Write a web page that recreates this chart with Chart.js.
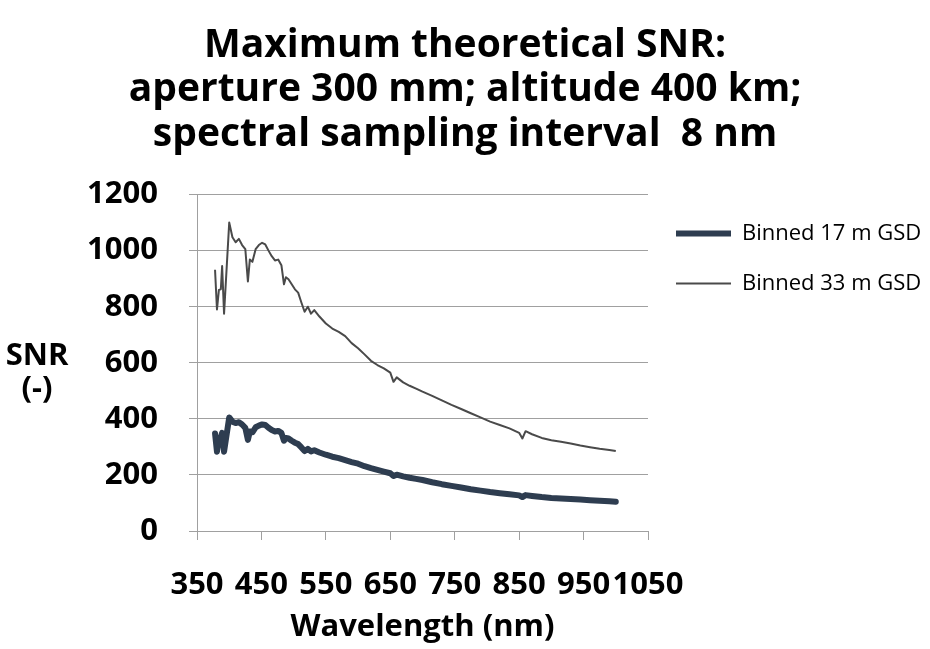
<!DOCTYPE html>
<html>
<head>
<meta charset="utf-8">
<style>
  html, body { margin: 0; padding: 0; background: #fff; }
  #wrap { width: 930px; height: 649px; }
</style>
<script src="https://cdn.jsdelivr.net/npm/chart.js@4.4.1/dist/chart.umd.min.js"></script>
</head>
<body>
<div id="wrap"><canvas id="snrChart" width="930" height="649"></canvas></div>
<script>
const titleLines = [
  "Maximum theoretical SNR:",
  "aperture 300 mm; altitude 400 km;",
  "spectral sampling interval  8 nm"
];
const xTitle = "Wavelength (nm)";
const yTitleLines = ["SNR", "(-)"];
const seriesNames = ["Binned 17 m GSD", "Binned 33 m GSD"];

// wavelength in nm
const wavelengths = [
  378, 381, 384, 387, 389, 392, 400, 405, 410, 415, 420, 425,
  429, 432, 436, 441, 446, 451, 456, 461, 466, 471, 476, 481,
  485, 488, 492, 497, 502, 507, 512, 517, 522, 527, 532, 540,
  550, 560, 570, 580, 590, 600, 610, 620, 630, 640, 650, 655,
  660, 670, 680, 690, 700, 715, 730, 745, 760, 775, 790, 805,
  820, 835, 850, 855, 860, 870, 885, 900, 915, 930, 945, 960,
  975, 990, 1000
];

const snr17 = [
  348, 283, 332, 334, 350, 283, 405, 390, 385, 388, 380, 368,
  325, 355, 352, 370, 376, 380, 378, 368, 360, 355, 357, 350,
  322, 332, 330, 322, 315, 310, 298, 285, 293, 284, 288, 280,
  272, 265, 260, 253, 246, 240, 231, 224, 218, 212, 206, 196,
  201, 195, 190, 186, 182, 174, 167, 161, 155, 149, 144, 139,
  135, 131, 127, 121, 128, 125, 121, 118, 116, 114, 112, 110,
  108, 106, 104
];

const snr33 = [
  932, 790, 860, 862, 945, 775, 1100, 1048, 1030, 1042, 1020, 1005,
  890, 968, 960, 1005, 1020, 1028, 1022, 1000, 980, 965, 968, 948,
  880, 905, 898, 880, 862, 850, 815, 782, 800, 775, 788, 765,
  740, 722, 710, 695, 670, 652, 630, 607, 592, 580, 565, 532,
  548, 530, 518, 508, 497, 482, 466, 450, 435, 420, 405, 390,
  378, 366, 350, 330, 356, 345, 332, 324, 318, 312, 305, 299,
  293, 289, 285
];

const xTicks = { min: 350, max: 1050, step: 100 };
const yTicks = { min: 0, max: 1200, step: 200 };

const gridColor = "#a0a0a0";
const fontFamily = '"Open Sans", sans-serif';

function toPoints(values) {
  return wavelengths.map((w, i) => ({ x: w, y: values[i] }));
}

const yTitlePlugin = {
  id: "yTitle",
  afterDraw(chart) {
    const ctx = chart.ctx;
    ctx.save();
    ctx.font = 'bold 31px "Open Sans"';
    ctx.fillStyle = "#000";
    ctx.textAlign = "center";
    ctx.textBaseline = "middle";
    yTitleLines.forEach((line, i) => ctx.fillText(line, 37, 356 + i * 33));
    ctx.restore();
  }
};

function drawChart() {
  Chart.defaults.font.family = fontFamily;
  Chart.defaults.color = "#000";

  new Chart(document.getElementById("snrChart"), {
    type: "line",
    data: {
      datasets: [
        {
          label: seriesNames[0],
          data: toPoints(snr17),
          borderColor: "#2e3d50",
          backgroundColor: "#2e3d50",
          borderWidth: 6,
          borderCapStyle: "round",
          borderJoinStyle: "round",
          pointRadius: 0,
          tension: 0
        },
        {
          label: seriesNames[1],
          data: toPoints(snr33),
          borderColor: "#4a4a4a",
          backgroundColor: "#4a4a4a",
          borderWidth: 2,
          borderJoinStyle: "round",
          pointRadius: 0,
          tension: 0
        }
      ]
    },
    options: {
      responsive: false,
      animation: false,
      layout: { padding: { left: 0, right: 0, top: 0, bottom: 0 } },
      plugins: {
        title: {
          display: true,
          text: titleLines,
          color: "#000",
          font: { size: 39, weight: "bold", lineHeight: 1.15 },
          padding: { top: 23, bottom: 37 }
        },
        legend: {
          position: "right",
          align: "start",
          fullSize: false,
          maxWidth: 282,
          labels: {
            usePointStyle: true,
            pointStyle: "line",
            pointStyleWidth: 55,
            padding: 28,
            color: "#000",
            font: { size: 22 }
          }
        },
        tooltip: { enabled: false }
      },
      scales: {
        x: {
          type: "linear",
          min: xTicks.min,
          max: xTicks.max,
          ticks: {
            stepSize: xTicks.step,
            autoSkip: false,
            maxRotation: 0,
            padding: 27,
            color: "#000",
            font: { size: 31, weight: "bold" },
            callback: (v) => String(v)
          },
          grid: { drawOnChartArea: false, tickLength: 9, color: gridColor },
          border: { color: gridColor },
          title: {
            display: true,
            text: xTitle,
            color: "#000",
            font: { size: 31, weight: "bold" },
            padding: { top: 0, bottom: 3 }
          },
          afterFit(scale) { scale.height = 118; }
        },
        y: {
          min: yTicks.min,
          max: yTicks.max,
          ticks: {
            stepSize: yTicks.step,
            padding: 31,
            color: "#000",
            font: { size: 31, weight: "bold" },
            callback: (v) => String(v)
          },
          grid: { tickLength: 8, color: gridColor },
          border: { color: gridColor },
          afterFit(scale) { scale.width = 197; }
        }
      }
    },
    plugins: [yTitlePlugin]
  });
}

Promise.all([
  document.fonts.load('bold 31px "Open Sans"'),
  document.fonts.load('22px "Open Sans"')
]).then(drawChart, drawChart);
</script>
</body>
</html>
